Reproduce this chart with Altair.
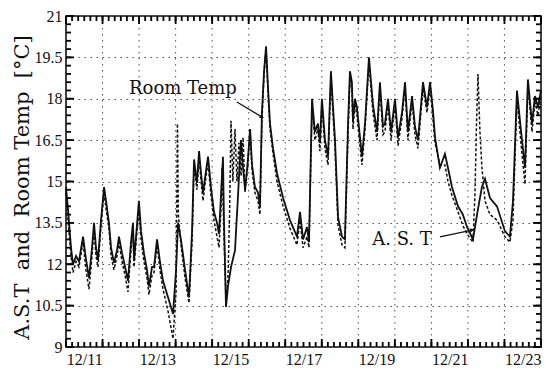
import altair as alt
import pandas as pd

# ---------------- data ----------------
# x: hours since 12/11 00:00 ; y: temperature in deg C
room_hours = [0.0, 1.3, 3.3, 4.6, 6.6, 8.5, 11.2, 13.1, 15.1, 17.1, 18.4, 19.7, 21.0, 23.0,
              25.0, 26.3, 28.2, 29.6, 31.5, 33.5, 34.8, 36.8, 38.8, 40.7, 42.7, 44.0, 44.7, 46.0,
              47.9, 49.3, 51.2, 53.2, 54.5, 56.5, 57.8, 59.8, 61.7, 63.7, 67.0, 70.3, 72.3, 73.6,
              75.5, 78.2, 80.8, 82.8, 84.1, 86.0, 87.4, 88.7, 90.0, 92.0, 93.3, 95.2, 97.2, 99.2,
              100.5, 101.8, 103.1, 103.8, 105.1, 106.4, 108.4, 111.0, 113.0, 114.9, 116.3, 117.6,
              119.5, 120.9, 122.2, 124.1, 126.1, 127.4, 128.7, 130.1, 131.4, 132.7, 134.0, 136.0,
              138.6, 142.6, 147.1, 151.7, 153.7, 155.7, 158.3, 159.6, 161.6, 163.5, 165.5, 166.8,
              168.1, 170.1, 172.1, 174.0, 176.7, 178.7, 181.3, 183.2, 185.2, 186.5, 187.8, 188.5,
              189.8, 191.1, 193.1, 194.4, 196.4, 199.0, 201.6, 204.3, 206.2, 208.2, 209.5, 211.5,
              213.5, 216.1, 218.1, 220.7, 222.7, 224.6, 227.3, 229.2, 231.2, 234.5, 237.1, 239.1,
              241.0, 242.4, 245.6, 248.9, 250.9, 253.5, 257.5, 260.7, 263.4, 267.3, 270.6, 273.2,
              275.2, 278.5, 283.1, 288.3, 291.6, 293.6, 296.2, 299.5, 301.5, 303.4, 306.1, 308.0,
              310.0, 312.0]
room_temp = [14.8, 14.0, 12.6, 12.0, 12.3, 12.1, 13.0, 12.2, 11.5, 12.6, 13.5, 12.6, 12.15, 13.6,
             14.8, 14.3, 13.5, 12.6, 12.05, 12.5, 13.0, 12.4, 11.9, 11.4, 12.8, 13.5, 12.15, 13.0,
             14.3, 13.2, 12.4, 11.8, 11.2, 11.9, 11.9, 12.9, 12.1, 11.4, 10.8, 10.2, 11.8, 13.5,
             12.9, 11.8, 10.8, 13.2, 15.8, 14.95, 16.1, 15.3, 14.6, 15.4, 15.9, 14.8, 13.9, 13.5,
             13.1, 14.5, 15.9, 13.5, 10.45, 11.2, 11.9, 12.5, 14.5, 16.5, 15.5, 14.7,
             15.8, 16.9, 15.6, 14.8, 14.6, 14.1, 17.5, 19.0, 19.9, 18.4, 17.1, 16.2,
             15.3, 14.4, 13.6, 13.0, 13.9, 12.9, 13.35, 12.8, 18.0, 16.8, 17.1, 16.4,
             18.0, 16.5, 15.9, 19.0, 16.5, 13.7, 13.0, 12.9, 17.0, 19.0, 18.6, 17.2,
             18.0, 17.7, 16.6, 15.9, 17.1, 19.5, 17.8, 16.8, 18.6, 17.0, 17.1, 18.0,
             16.8, 18.0, 16.6, 17.5, 18.6, 16.8, 18.1, 17.0, 16.5, 18.6, 17.7, 18.6,
             17.6, 16.6, 15.5, 16.0, 15.5, 14.8, 14.1, 13.8, 13.35, 12.9, 14.0, 14.8,
             15.1, 14.4, 14.1, 13.2, 13.0, 14.3, 18.3, 16.5, 15.5, 18.7, 17.1, 18.1,
             17.7, 18.3]

ast_hours = [0.0, 1.3, 3.3, 4.6, 6.6, 8.5, 11.2, 13.1, 15.1, 17.1, 18.4, 19.7, 21.0, 23.0,
             25.0, 26.3, 28.2, 29.6, 31.5, 33.5, 34.8, 36.8, 38.8, 40.7, 42.7, 44.0, 44.7, 46.0,
             47.9, 49.3, 51.2, 53.2, 54.5, 56.5, 57.8, 59.8, 61.7, 63.7, 67.0, 70.3, 72.3, 73.2,
             73.8, 75.5, 78.2, 80.8, 82.8, 84.1, 86.0, 87.4, 88.7, 90.0, 92.0, 93.3, 95.2, 97.2,
             99.2, 100.5, 101.8, 102.5, 103.8, 105.1, 106.4, 107.5, 108.4, 109.6, 111.0, 112.3,
             113.6, 115.0, 116.3, 117.6, 119.5, 120.9, 122.2, 124.1, 126.1, 127.4, 128.7, 130.1,
             131.4, 132.7, 134.0, 136.0, 138.6, 142.6, 147.1, 151.7, 153.7, 155.7, 158.3, 159.6,
             161.6, 163.5, 165.5, 166.8, 168.1, 170.1, 172.1, 174.0, 176.7, 178.7, 181.3, 183.2,
             185.2, 186.5, 187.8, 188.5, 189.8, 191.1, 193.1, 194.4, 196.4, 199.0, 201.6, 204.3,
             206.2, 208.2, 209.5, 211.5, 213.5, 216.1, 218.1, 220.7, 222.7, 224.6, 227.3, 229.2,
             231.2, 234.5, 237.1, 239.1, 241.0, 242.4, 245.6, 248.9, 250.9, 253.5, 257.5, 260.7,
             263.4, 267.3, 268.6, 269.6, 270.6, 271.9, 273.2, 275.2, 278.5, 283.1, 288.3, 291.6,
             293.6, 296.2, 299.5, 301.5, 303.4, 306.1, 308.0, 310.0, 312.0]
ast_temp = [14.6, 13.6, 12.3, 11.7, 12.1, 11.9, 12.8, 11.8, 11.1, 12.3, 13.3, 12.3, 11.9, 13.4,
            14.6, 14.0, 13.3, 12.3, 11.8, 12.3, 12.8, 12.1, 11.6, 11.0, 12.5, 13.3, 11.9, 12.8,
            14.0, 12.9, 12.1, 11.5, 10.9, 11.6, 11.7, 12.7, 11.8, 11.1, 10.3, 9.3, 11.0, 17.1,
            13.8, 12.7, 11.5, 10.6, 12.8, 15.6, 14.7, 15.9, 15.0, 14.3, 15.2, 15.7, 14.5, 13.6,
            13.0, 12.6, 14.0, 15.5, 13.0, 10.6, 11.5, 14.0, 17.2, 15.0, 16.9, 15.0,
            16.4, 15.2, 16.6, 14.6, 15.6, 16.9, 15.4, 14.6, 14.3, 13.8, 17.2, 18.9,
            19.8, 18.2, 16.9, 16.0, 15.0, 14.1, 13.3, 12.7, 13.6, 12.6, 13.0, 12.6,
            17.7, 16.5, 16.9, 16.1, 17.8, 16.2, 15.6, 18.8, 16.2, 13.4, 12.7, 12.6,
            16.6, 18.8, 18.3, 16.9, 17.8, 17.4, 16.3, 15.6, 16.9, 19.3, 17.5, 16.5,
            18.4, 16.7, 16.8, 17.8, 16.5, 17.8, 16.3, 17.3, 18.4, 16.5, 17.9, 16.7,
            16.2, 18.4, 17.5, 18.4, 17.3, 16.4, 15.6, 15.6, 15.0, 14.5, 13.9, 13.4,
            13.1, 12.8, 14.5, 17.0, 18.9, 16.8, 15.5, 14.3, 13.8, 13.6, 13.0, 12.8,
            13.6, 18.0, 16.0, 14.9, 18.5, 16.8, 17.9, 17.4, 18.1]

# axis ticks / labels
x_label_hours = [12, 60, 108, 156, 204, 252, 300]          # noon of 12/11, 12/13 ... 12/23
x_major_hours = [24 * i for i in range(14)]                 # midnight of each day
x_minor_hours = [4 * i for i in range(79)]                  # every 4 hours
x_grid_hours = [24 * i for i in range(1, 13)]
y_major = [9, 10.5, 12, 13.5, 15, 16.5, 18, 19.5, 21]
y_minor = [round(9 + 0.3 * i, 2) for i in range(41)]

# annotations
annot_text = ["Room Temp", "A.\u00a0S.\u00a0T"]
annot_hours = [76.8, 220.7]
annot_temp = [18.35, 12.88]
arrow_h0 = [112.3, 245.6]
arrow_t0 = [17.88, 12.99]
arrow_h1 = [128.7, 266.7]
arrow_t1 = [17.34, 13.24]

W, H = 475, 331
X0, X1, Y0, Y1 = 0, 312, 9, 21
TICK_FONT = "Liberation Serif"
TEXT_FONT = "DejaVu Serif"
INK = "#111111"

room_df = pd.DataFrame({"h": room_hours, "temp": room_temp})
ast_df = pd.DataFrame({"h": ast_hours, "temp": ast_temp})
text_df = pd.DataFrame({"h": annot_hours, "temp": annot_temp, "label": annot_text})
arrow_df = pd.DataFrame({"h0": arrow_h0, "v0": arrow_t0, "h1": arrow_h1, "v1": arrow_t1})

# inward tick marks on all four sides, as short segments (lengths in px -> data units)
px_h = (X1 - X0) / W
px_t = (Y1 - Y0) / H
MAJOR, MINOR = 8, 5
seg = []
for vals, ln in ((x_major_hours, MAJOR), (x_minor_hours, MINOR)):
    for v in vals:
        seg.append((v, v, Y0, Y0 + ln * px_t))
        seg.append((v, v, Y1, Y1 - ln * px_t))
for vals, ln in ((y_major, MAJOR), (y_minor, MINOR)):
    for v in vals:
        seg.append((X0, X0 + ln * px_h, v, v))
        seg.append((X1, X1 - ln * px_h, v, v))
tick_df = pd.DataFrame(seg, columns=["h0", "h1", "v0", "v1"])
grid_df = pd.DataFrame({"h": x_grid_hours})

xscale = alt.Scale(domain=[X0, X1], nice=False, zero=False)
yscale = alt.Scale(domain=[Y0, Y1], nice=False, zero=False)

x_axis = alt.Axis(values=x_label_hours, orient="bottom",
                  labelExpr="'12/' + (11 + floor(datum.value / 24))",
                  ticks=False, tickSize=0, domain=False, grid=False, title=None,
                  labelFont=TICK_FONT, labelFontSize=16, labelColor=INK, labelPadding=4,
                  labelFlush=False, labelOverlap=False)
y_axis = alt.Axis(values=y_major, orient="left", format=".1~f",
                  ticks=False, tickSize=0, domain=False,
                  grid=True, gridDash=[1.5, 4.5], gridColor="#333333", gridWidth=1, gridOpacity=0.85,
                  labelFont=TICK_FONT, labelFontSize=16, labelColor=INK, labelPadding=4,
                  labelFlush=False, labelOverlap=False,
                  title="A.S.T\u00a0\u00a0and\u00a0\u00a0Room\u00a0Temp\u00a0\u00a0[°C]",
                  titleFont=TEXT_FONT, titleFontSize=21, titleFontWeight="normal",
                  titleColor=INK, titleX=-44, titleY=171, titleAngle=270,
                  titleAlign="center", titleBaseline="middle")

room = alt.Chart(room_df).mark_line(color=INK, strokeWidth=1.8).encode(
    x=alt.X("h:Q", scale=xscale, axis=x_axis), y=alt.Y("temp:Q", scale=yscale, axis=y_axis))
vgrid = alt.Chart(grid_df).mark_rule(color="#333333", strokeWidth=1, strokeDash=[1.5, 4.5],
                                     opacity=0.85).encode(x=alt.X("h:Q", scale=xscale))
ticks = alt.Chart(tick_df).mark_rule(color="black", strokeWidth=1.8, opacity=1).encode(
    x=alt.X("h0:Q", scale=xscale), x2="h1:Q",
    y=alt.Y("v0:Q", scale=yscale), y2="v1:Q")
ast = alt.Chart(ast_df).mark_line(color=INK, strokeWidth=1.5, strokeDash=[3, 2]).encode(
    x=alt.X("h:Q", scale=xscale), y=alt.Y("temp:Q", scale=yscale))
texts = alt.Chart(text_df).mark_text(font=TEXT_FONT, fontSize=18, color=INK, align="center",
                                     baseline="middle").encode(
    x=alt.X("h:Q", scale=xscale), y=alt.Y("temp:Q", scale=yscale), text="label:N")
arrows = alt.Chart(arrow_df).mark_rule(color=INK, strokeWidth=1.3).encode(
    x=alt.X("h0:Q", scale=xscale), x2="h1:Q",
    y=alt.Y("v0:Q", scale=yscale), y2="v1:Q")
head1 = alt.Chart(arrow_df.iloc[[0]]).mark_point(shape="triangle-right", filled=True, size=22,
                                                 color=INK, angle=31, opacity=1).encode(
    x=alt.X("h1:Q", scale=xscale), y=alt.Y("v1:Q", scale=yscale))
head2 = alt.Chart(arrow_df.iloc[[1]]).mark_point(shape="triangle-right", filled=True, size=22,
                                                 color=INK, angle=348, opacity=1).encode(
    x=alt.X("h1:Q", scale=xscale), y=alt.Y("v1:Q", scale=yscale))

chart = alt.layer(
    room, vgrid, ticks, ast, texts, arrows, head1, head2,
).properties(
    width=W, height=H,
    autosize=alt.AutoSizeParams(type="none"),
    padding={"left": 66, "top": 16, "right": 13, "bottom": 30},
    background="white",
).configure_view(stroke=INK, strokeWidth=1.6)

chart.save("out.html", embed_options={"renderer": "svg", "actions": False})
